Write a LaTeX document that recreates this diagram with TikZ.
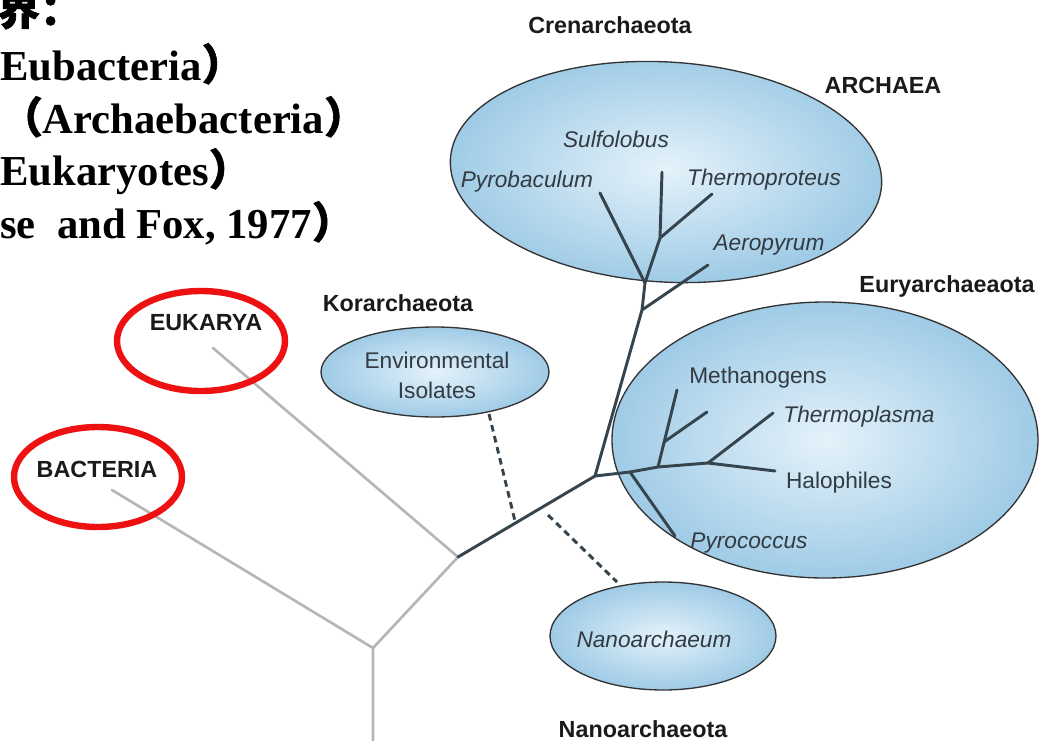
\documentclass[tikz,border=0pt]{standalone}
\usepackage{fontspec}
\usetikzlibrary{shapes.geometric,calc}
\newfontfamily\lab{Liberation Sans}
\newfontfamily\ser{Liberation Serif}
\newfontfamily\cjk[FakeBold=1.5]{Noto Sans CJK SC}
\definecolor{treedark}{HTML}{36444E}
\definecolor{treegray}{HTML}{B6B6B6}
\definecolor{blobin}{HTML}{E4F2FA}
\definecolor{blobout}{HTML}{9FCBE6}
\definecolor{labdark}{HTML}{1A1A1A}
\definecolor{labin}{HTML}{333B42}
\definecolor{ringred}{HTML}{EE1111}
\begin{document}
\begin{tikzpicture}[x=0.75pt,y=-0.75pt,
  blob/.style={ellipse, draw=black!80, line width=1pt, inner sep=0pt, shading=radial, inner color=blobin, outer color=blobout},
  ring/.style={ellipse, draw=ringred, line width=4.8pt, inner sep=0pt, minimum width=126pt, minimum height=75pt},
  dark/.style={draw=treedark, line width=2.2pt, line cap=round, line join=round},
  grayline/.style={draw=treegray, line width=2pt, line cap=round, line join=round},
  dashline/.style={draw=treedark, line width=2.2pt, dash pattern=on 5pt off 3.5pt},
  group/.style={font=\lab\bfseries\fontsize{17.5}{20}\selectfont, text=labdark, anchor=base, inner sep=0pt},
  taxon/.style={font=\lab\fontsize{17}{20}\selectfont, text=labin, anchor=base, inner sep=0pt},
  itaxon/.style={taxon, font=\lab\itshape\fontsize{17}{20}\selectfont},
  cn/.style={font=\ser\bfseries\fontsize{32}{38}\selectfont, anchor=base west, inner sep=0pt, text=black}]
\useasboundingbox (0,0) rectangle (1040,740);
\clip (0,0) rectangle (1040,740);

% ellipses
\node[blob, rotate=-3.5, minimum width=324pt, minimum height=165pt] (cren) at (666,172) {};
\node[blob, minimum width=319.5pt, minimum height=207pt] (eury) at (825,440) {};
\node[blob, minimum width=171pt, minimum height=67.5pt] (env) at (435,372) {};
\node[blob, minimum width=169.5pt, minimum height=81pt] (nano) at (663,636) {};

% tree coordinates
\coordinate (j0) at (373,648);
\coordinate (root) at (373,745);
\coordinate (j1) at (458,557);
\coordinate (bac) at (112,490);
\coordinate (euk) at (213,348);
\coordinate (j2) at (595,476);
\coordinate (ja) at (642,310);
\coordinate (jp) at (645,283);
\coordinate (jst) at (660,238);
\coordinate (tsul) at (662,172);
\coordinate (tthe) at (712,194);
\coordinate (tpyb) at (600,193);
\coordinate (taer) at (708,265);
\coordinate (jpc) at (630,472);
\coordinate (jm) at (658,467);
\coordinate (jt) at (708,463);
\coordinate (thal) at (775,471);
\coordinate (tmet) at (677,390);
\coordinate (jm2) at (664,442);
\coordinate (tm2) at (707,412);
\coordinate (ttp) at (773,413);
\coordinate (tpc) at (675,536);
\coordinate (d1a) at (489,414);
\coordinate (d1b) at (515,521);
\coordinate (d2a) at (548,515);
\coordinate (d2b) at (617,582);

% gray branches
\draw[grayline] (bac) -- (j0) -- (root);
\draw[grayline] (euk) -- (j1) -- (j0);

% dark branches
\draw[dark] (j1) -- (j2) -- (ja) -- (jp) -- (jst) -- (tsul);
\draw[dark] (jst) -- (tthe);
\draw[dark] (jp) -- (tpyb);
\draw[dark] (ja) -- (taer);
\draw[dark] (j2) -- (jpc) -- (jm) -- (jt) -- (thal);
\draw[dark] (jm) -- (tmet);
\draw[dark] (jm2) -- (tm2);
\draw[dark] (jt) -- (ttp);
\draw[dark] (jpc) -- (tpc);

% dashed links
\draw[dashline] (d1a) -- (d1b);
\draw[dashline] (d2a) -- (d2b);

% group labels
\node[group] (lcren) at (610,33) {Crenarchaeota};
\node[group] (larch) at (883,93) {ARCHAEA};
\node[group] (leury) at (947,292) {Euryarchaeaota};
\node[group] (lkor) at (398,311) {Korarchaeota};
\node[group] (leuk) at (206,330) {EUKARYA};
\node[group] (lbac) at (97,477) {BACTERIA};
\node[group] (lnano) at (643,737) {Nanoarchaeota};

% taxon labels
\node[itaxon] (lsul) at (616,147) {Sulfolobus};
\node[itaxon] (lpyb) at (527,187) {Pyrobaculum};
\node[itaxon] (lthe) at (764,185) {Thermoproteus};
\node[itaxon] (laer) at (769,250) {Aeropyrum};
\node[taxon] (lenv1) at (437,368) {Environmental};
\node[taxon] (lenv2) at (437,398) {Isolates};
\node[taxon] (lmet) at (758,383) {Methanogens};
\node[itaxon] (ltpl) at (859,422) {Thermoplasma};
\node[taxon] (lhal) at (839,488) {Halophiles};
\node[itaxon] (lpcc) at (749,548) {Pyrococcus};
\node[itaxon] (lnan) at (654,647) {Nanoarchaeum};

% red rings
\node[ring] (reuk) at (201,341) {};
\node[ring] (rbac) at (98,477) {};

% heading text (cut by the left edge, as in the reference)
\node[cn] (l1) at (-3,25) {{\cjk 界：}};
\node[cn] (l2) at (0,80) {Eubacteria{\cjk ）}};
\node[cn] (l3) at (0,133) {{\cjk （}Archaebacteria{\cjk ）}};
\node[cn] (l4) at (0,185) {Eukaryotes{\cjk ）}};
\node[cn] (l5) at (0,238) {se~~and Fox, 1977{\cjk ）}};
\end{tikzpicture}
\end{document}
